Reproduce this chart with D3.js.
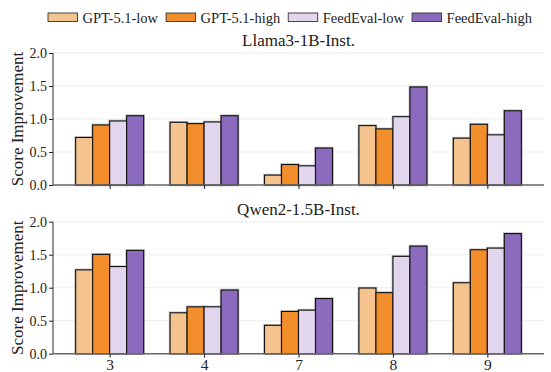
<!DOCTYPE html>
<html>
<head>
<meta charset="utf-8">
<script src="https://cdn.jsdelivr.net/npm/d3@7"></script>
<style>
  html, body { margin: 0; padding: 0; background: #fff; }
  svg { display: block; font-family: "Liberation Serif", "Times New Roman", serif; }
</style>
</head>
<body>
<svg id="chart" width="551" height="372"></svg>
<script>
// data
const groups = ["3", "4", "7", "8", "9"];
const seriesNames = ["GPT-5.1-low", "GPT-5.1-high", "FeedEval-low", "FeedEval-high"];
const seriesColors = ["#f5c38d", "#f28e2b", "#e2d6ef", "#8b6bbd"];
const yTicks = [0.0, 0.5, 1.0, 1.5, 2.0];

// values per group, in series order
const llamaValues = [
  [0.72, 0.91, 0.97, 1.05],
  [0.95, 0.93, 0.955, 1.05],
  [0.15, 0.31, 0.29, 0.56],
  [0.90, 0.85, 1.035, 1.485],
  [0.71, 0.92, 0.76, 1.125]
];
const qwenValues = [
  [1.27, 1.505, 1.32, 1.565],
  [0.62, 0.71, 0.71, 0.965],
  [0.43, 0.64, 0.66, 0.835],
  [0.995, 0.925, 1.475, 1.63],
  [1.075, 1.575, 1.60, 1.82]
];

const panels = [
  {title: "Llama3-1B-Inst.", values: llamaValues, top: 53, bottom: 185, labels: false},
  {title: "Qwen2-1.5B-Inst.", values: qwenValues, top: 221.7, bottom: 353.7, labels: true}
];

const svg = d3.select("#chart");
const left = 53, right = 544;
const barW = 0.18;

// x is continuous over group index
const x = d3.scaleLinear().domain([-0.6, groups.length - 0.4]).range([left, right]);

panels.forEach(p => {
  const y = d3.scaleLinear().domain([0, 2]).range([p.bottom, p.top]);
  const g = svg.append("g");

  // grid
  g.selectAll("line.grid")
    .data(yTicks.filter(t => t > 0))
    .join("line")
    .attr("x1", left).attr("x2", right)
    .attr("y1", d => y(d)).attr("y2", d => y(d))
    .attr("stroke", "#dcdcdc")
    .attr("stroke-width", 0.8)
    .attr("stroke-dasharray", "2.5,1.5");

  // bars
  const flat = [];
  p.values.forEach((vals, gi) => vals.forEach((v, si) => flat.push({gi, si, v})));
  const bx = d => x(d.gi + (d.si - 1.5) * barW - barW / 2);
  const bw = x(barW) - x(0);

  g.selectAll("rect.halo")
    .data(flat)
    .join("rect")
    .attr("x", bx).attr("width", bw)
    .attr("y", d => y(d.v)).attr("height", d => y(0) - y(d.v))
    .attr("fill", "none")
    .attr("stroke", "#888")
    .attr("stroke-opacity", 0.55)
    .attr("stroke-width", 2.6);

  g.selectAll("rect.bar")
    .data(flat)
    .join("rect")
    .attr("x", bx).attr("width", bw)
    .attr("y", d => y(d.v)).attr("height", d => y(0) - y(d.v))
    .attr("fill", d => seriesColors[d.si])
    .attr("stroke", "#111")
    .attr("stroke-width", 1.1);

  // y axis
  const yAxis = d3.axisLeft(y).tickValues(yTicks).tickFormat(d3.format(".1f")).tickSize(4).tickPadding(2);
  const ya = g.append("g").attr("transform", `translate(${left},0)`).call(yAxis);
  ya.select(".domain").attr("stroke", "#666").attr("stroke-width", 1.4).attr("d", `M0,${p.top}V${p.bottom}`);
  ya.selectAll(".tick line").attr("stroke", "#222");
  ya.selectAll(".tick text")
    .attr("font-family", "Liberation Serif").attr("font-size", 14).attr("fill", "#222");

  // x axis
  const xAxis = d3.axisBottom(x).tickValues(d3.range(groups.length))
    .tickFormat(i => p.labels ? groups[i] : "").tickSize(4).tickPadding(1.5);
  const xa = g.append("g").attr("transform", `translate(0,${p.bottom})`).call(xAxis);
  xa.select(".domain").attr("stroke", "#666").attr("stroke-width", 1.4).attr("d", `M${left},0H${right}`);
  xa.selectAll(".tick line").attr("stroke", "#222");
  xa.selectAll(".tick text")
    .attr("font-family", "Liberation Serif").attr("font-size", 15.5).attr("fill", "#222");

  // title
  g.append("text")
    .attr("x", (left + right) / 2).attr("y", p.top - 7)
    .attr("text-anchor", "middle")
    .attr("font-size", 17).attr("fill", "#222")
    .text(p.title);

  // y label
  g.append("text")
    .attr("transform", `translate(23,${(p.top + p.bottom) / 2}) rotate(-90)`)
    .attr("text-anchor", "middle")
    .attr("font-size", 17).attr("fill", "#222")
    .text("Score Improvement");
});

// legend
const legend = svg.append("g");
let lx = 48;
seriesNames.forEach((name, i) => {
  legend.append("rect")
    .attr("x", lx).attr("y", 13).attr("width", 29.5).attr("height", 8.5)
    .attr("fill", seriesColors[i]).attr("stroke", "#333").attr("stroke-width", 0.9);
  const t = legend.append("text")
    .attr("x", lx + 34.5).attr("y", 22.5)
    .attr("font-size", 14.5).attr("fill", "#222")
    .text(name);
  lx += 34.5 + t.node().getComputedTextLength() + 8;
});
</script>
</body>
</html>
